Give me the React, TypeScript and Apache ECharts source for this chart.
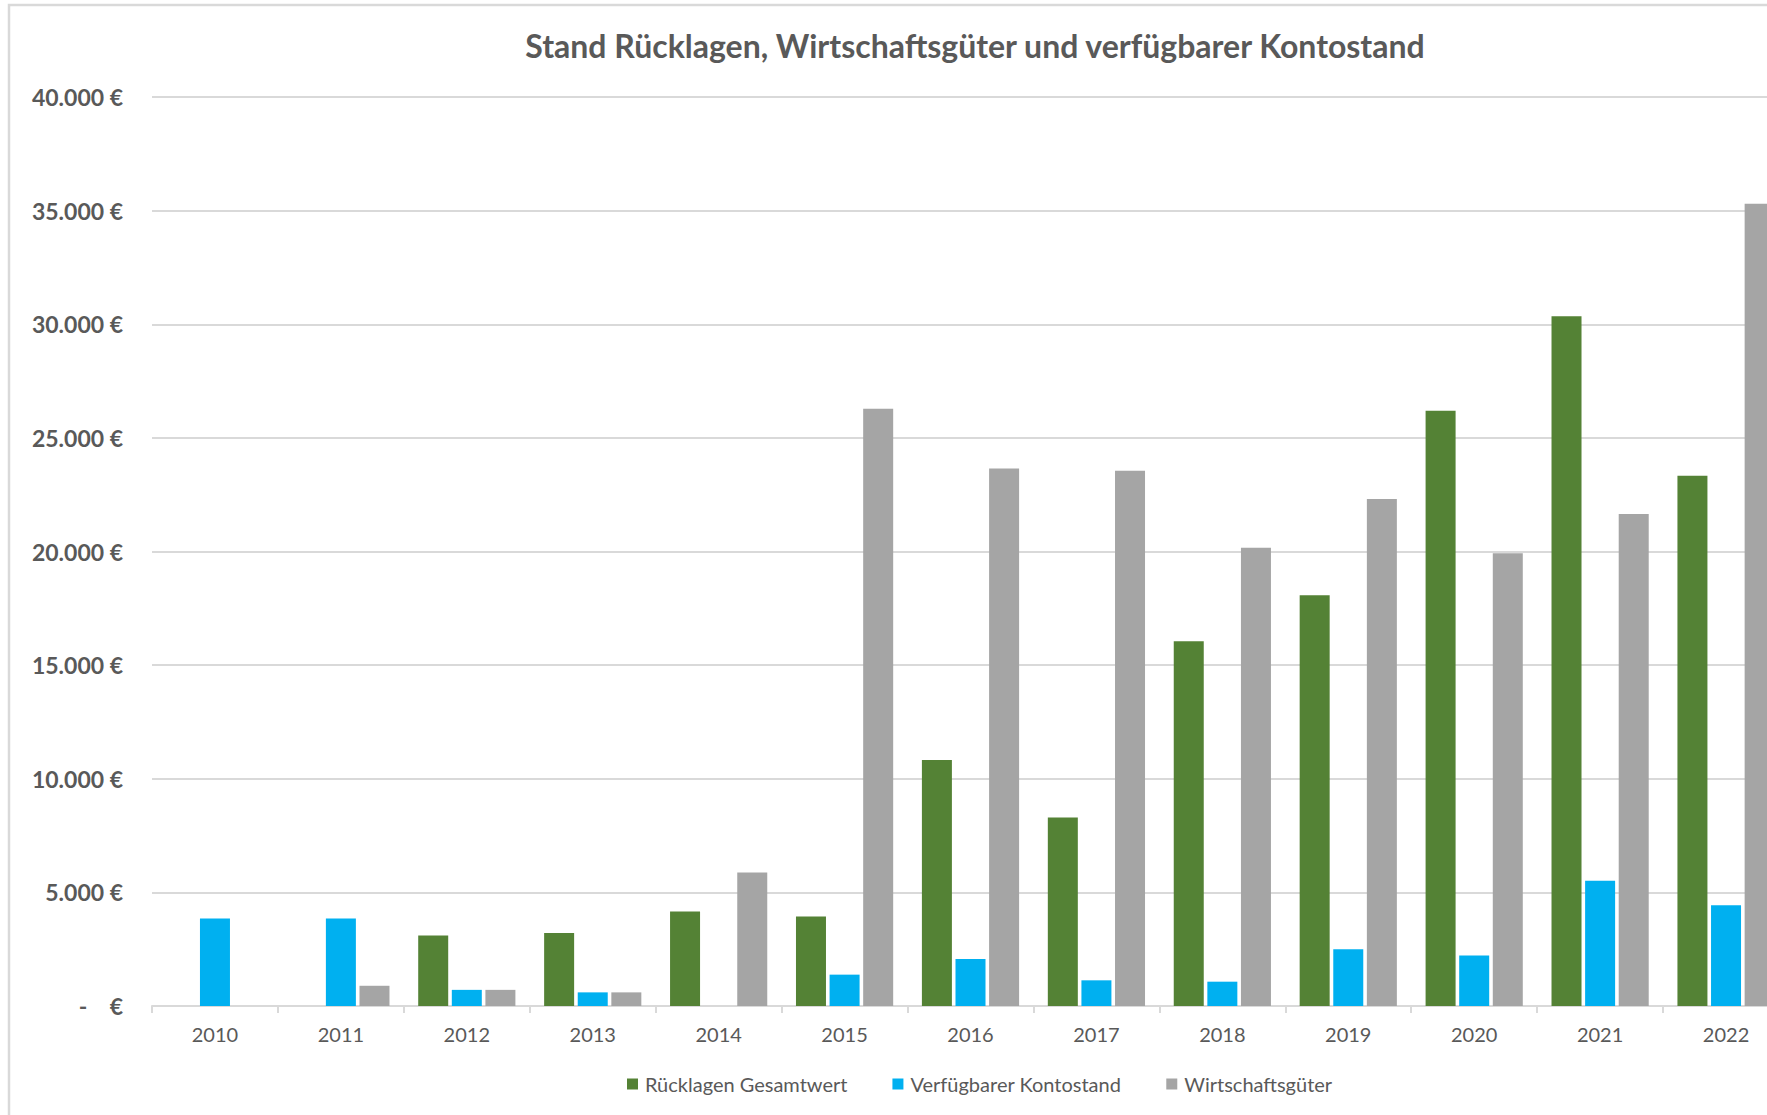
import React, { useEffect, useRef } from "react";
import * as echarts from "echarts";

const categories = ["2010", "2011", "2012", "2013", "2014", "2015", "2016", "2017", "2018", "2019", "2020", "2021", "2022"];
const ruecklagen = [null, null, 3100, 3210, 4160, 3940, 10820, 8300, 16050, 18080, 26190, 30350, 23330];
const kontostand = [3850, 3850, 710, 600, null, 1380, 2070, 1130, 1070, 2500, 2220, 5510, 4430];
const wirtschaftsgueter = [null, 890, 710, 600, 5880, 26280, 23650, 23550, 20170, 22310, 19920, 21650, 35300];
const seriesNames = ["Rücklagen Gesamtwert", "Verfügbarer Kontostand", "Wirtschaftsgüter"];
const titleText = "Stand Rücklagen, Wirtschaftsgüter und verfügbarer Kontostand";

const COLORS = ["#548235", "#00B0F0", "#A5A5A5"];
const TEXT = "#595959";
const FONT = "Lato";

function fmtEuro(v: number): string {
  if (v === 0) return "-\u00A0\u00A0\u00A0\u00A0€";
  return String(v).replace(/\B(?=(\d{3})+(?!\d))/g, ".") + " €";
}

export default function App() {
  const ref = useRef<HTMLDivElement>(null);
  useEffect(() => {
    document.body.style.margin = "0";
    const chart = echarts.init(ref.current!, null, { renderer: "svg" });
    const bar = (name: string, data: (number | null)[], color: string) => ({
      name,
      type: "bar",
      data,
      barWidth: 30,
      barGap: "12%",
      itemStyle: { color },
    });
    chart.setOption({
      animation: false,
      backgroundColor: "#ffffff",
      textStyle: { fontFamily: FONT },
      title: {
        text: titleText,
        left: "center",
        top: 29,
        padding: 0,
        textStyle: { fontFamily: FONT, fontSize: 32, fontWeight: "bold", color: TEXT },
      },
      legend: {
        left: 627,
        top: 1074,
        itemWidth: 11,
        itemHeight: 11,
        itemGap: 45,
        icon: "rect",
        padding: 0,
        textStyle: { fontFamily: FONT, fontSize: 20, color: TEXT, padding: [0, 0, 0, 2] },
        data: seriesNames,
      },
      graphic: [
        {
          type: "rect",
          shape: { x: 9, y: 5, width: 1950, height: 1300 },
          style: { fill: "none", stroke: "#D9D9D9", lineWidth: 2.5 },
          silent: true,
        },
      ],
      grid: { left: 152, right: 161, top: 97, bottom: 109, containLabel: false },
      xAxis: {
        type: "category",
        data: categories,
        axisLine: { lineStyle: { color: "#D9D9D9", width: 2 } },
        axisTick: { show: true, length: 7, lineStyle: { color: "#D9D9D9", width: 2 } },
        axisLabel: { fontFamily: FONT, fontSize: 20, color: TEXT, margin: 18 },
      },
      yAxis: {
        type: "value",
        min: 0,
        max: 40000,
        interval: 5000,
        axisLine: { show: false },
        axisTick: { show: false },
        splitLine: { lineStyle: { color: "#D9D9D9", width: 2 } },
        axisLabel: {
          fontFamily: FONT,
          fontSize: 23,
          fontWeight: "bold",
          color: TEXT,
          margin: 29,
          formatter: (v: number) => fmtEuro(v),
        },
      },
      series: [
        bar(seriesNames[0], ruecklagen, COLORS[0]),
        bar(seriesNames[1], kontostand, COLORS[1]),
        bar(seriesNames[2], wirtschaftsgueter, COLORS[2]),
      ],
    });
    return () => chart.dispose();
  }, []);
  return (
    <div style={{ position: "fixed", left: 0, top: 0, width: 1767, height: 1115, overflow: "hidden", background: "#fff" }}>
      <div ref={ref} style={{ width: 1950, height: 1115 }} />
    </div>
  );
}
